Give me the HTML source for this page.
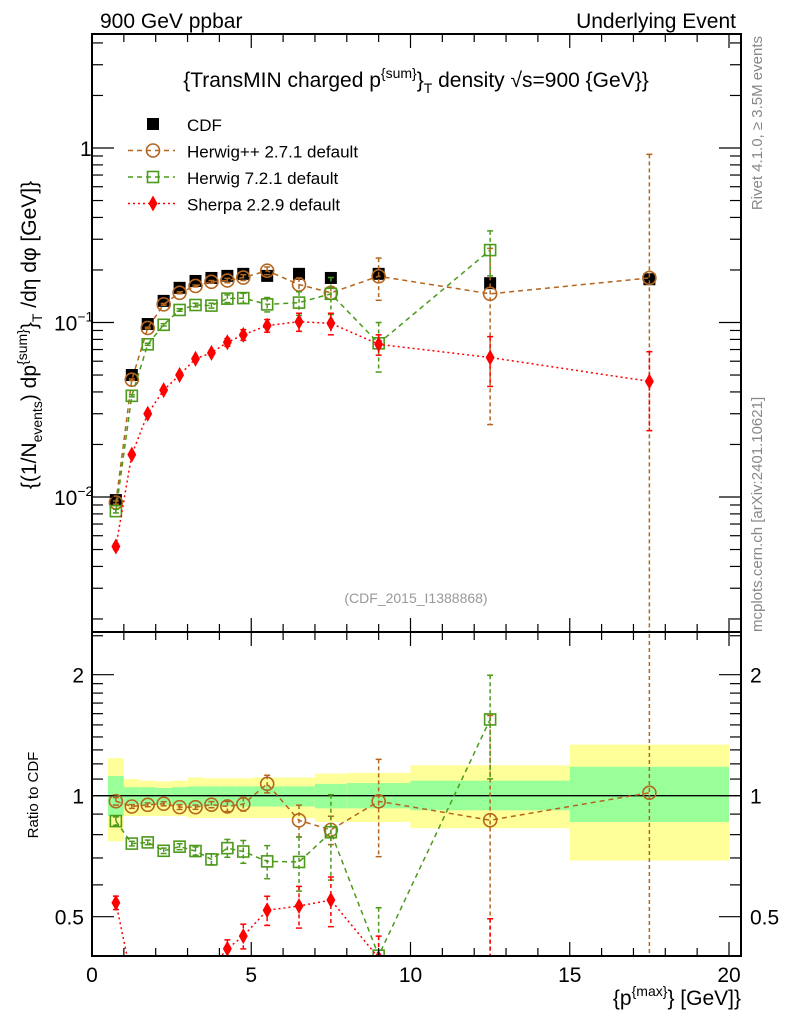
<!DOCTYPE html>
<html><head><meta charset="utf-8"><style>
html,body{margin:0;background:#fff;overflow:hidden;width:786px;height:1024px;}
svg{display:block;font-family:"Liberation Sans",sans-serif;}
</style></head><body>
<svg id="chart" width="786" height="1024" viewBox="0 0 786 1024" xmlns="http://www.w3.org/2000/svg" overflow="hidden">
<text x="100" y="28" font-size="21">900 GeV ppbar</text>
<text x="736" y="28" font-size="21" text-anchor="end">Underlying Event</text>
<text x="416" y="87" font-size="21" text-anchor="middle">{TransMIN charged p<tspan dy="-9" font-size="14">{sum}</tspan><tspan dy="9">}</tspan><tspan dy="6" font-size="14">T</tspan><tspan dy="-6"> density √s=900 {GeV}}</tspan></text>
<text transform="translate(36,335) rotate(-90)" font-size="21" text-anchor="middle">{(1/N<tspan dy="6" font-size="14">events</tspan><tspan dy="-6">) dp</tspan><tspan dy="-9" font-size="14">{sum}</tspan><tspan dy="9">}</tspan><tspan dy="6" font-size="14">T</tspan><tspan dy="-6"> /dη  dφ [GeV]}</tspan></text>
<text transform="translate(38,795) rotate(-90)" font-size="15" text-anchor="middle">Ratio to CDF</text>
<text transform="translate(762,36) rotate(-90)" font-size="15" fill="#888" text-anchor="end">Rivet 4.1.0, ≥ 3.5M events</text>
<text transform="translate(762,632) rotate(-90)" font-size="15" fill="#888">mcplots.cern.ch [arXiv:2401.10621]</text>
<text x="416" y="603" font-size="14" fill="#999" text-anchor="middle">(CDF_2015_I1388868)</text>
<text x="741" y="1005" font-size="21" text-anchor="end">{p<tspan dy="-9" font-size="14">{max}</tspan><tspan dy="9">} [GeV]}</tspan></text>
<g id="plots"></g>
<g id="legend"></g>
</svg>
<script>
const xs = [0.75,1.25,1.75,2.25,2.75,3.25,3.75,4.25,4.75,5.5,6.5,7.5,9,12.5,17.5];
const cdf = [0.0096,0.050,0.098,0.133,0.158,0.173,0.180,0.185,0.19,0.185,0.19,0.18,0.19,0.168,0.177];
const hpp = [0.0093,0.047,0.093,0.127,0.148,0.162,0.171,0.174,0.181,0.198,0.165,0.148,0.184,0.146,0.180];
const hppErr = [0.0002,0.0005,0.001,0.0015,0.002,0.002,0.003,0.005,0.007,0.01,0.015,0.012,0.05,0.12,0.74];
const h7 = [0.0083,0.038,0.075,0.097,0.118,0.126,0.125,0.137,0.138,0.127,0.13,0.146,0.076,0.26,null];
const h7Err = [0.0002,0.0005,0.001,0.0015,0.002,0.003,0.004,0.007,0.009,0.012,0.02,0.035,0.024,0.075,null];
const sh = [0.0052,0.0175,0.030,0.041,0.050,0.062,0.067,0.077,0.085,0.096,0.101,0.099,0.075,0.063,0.046];
const shErr = [0.0002,0.0004,0.0006,0.0008,0.001,0.0015,0.002,0.004,0.006,0.008,0.012,0.014,0.01,0.02,0.022];
const binEdges = [0.5,1,1.5,2,2.5,3,3.5,4,4.5,5,6,7,8,10,15,20];
const yelUp = [1.24,1.10,1.09,1.085,1.09,1.11,1.105,1.105,1.105,1.11,1.11,1.135,1.14,1.19,1.34];
const yelDn = [0.77,0.89,0.89,0.89,0.89,0.88,0.88,0.88,0.88,0.88,0.88,0.86,0.86,0.83,0.69];
const grnUp = [1.12,1.05,1.05,1.045,1.05,1.055,1.055,1.055,1.055,1.055,1.055,1.07,1.075,1.09,1.18];
const grnDn = [0.89,0.95,0.95,0.95,0.95,0.94,0.94,0.94,0.94,0.94,0.94,0.93,0.93,0.92,0.86];
const xTicks = [0,5,10,15,20];
const mainTicks = [[1,"1"],[0.1,"10"],[0.01,"10"]];
const ratioTicks = [0.5,1,2];

const NS="http://www.w3.org/2000/svg";
const L=92,R=741,T=34,MB=632,RB=956;
const X=v=>L+v*31.85;
const Ym=v=>148-Math.log10(v)*174.5;
const Yr=v=>795.7-Math.log2(v)*121;
const g=document.getElementById('plots');
function el(tag,at,parent){const e=document.createElementNS(NS,tag);for(const k in at)e.setAttribute(k,at[k]);(parent||g).appendChild(e);return e;}

const bands=el('g',{});


for(let i=0;i<yelUp.length;i++){
  const r1=el('rect',{x:X(binEdges[i]),width:X(binEdges[i+1])-X(binEdges[i]),y:Yr(yelUp[i]),height:Yr(yelDn[i])-Yr(yelUp[i]),fill:'#ffff99'},bands);
  
  
  const r2=el('rect',{x:X(binEdges[i]),width:X(binEdges[i+1])-X(binEdges[i]),y:Yr(grnUp[i]),height:Yr(grnDn[i])-Yr(grnUp[i]),fill:'#99ff99'},bands);
  
  
}
const one=el('line',{x1:L,x2:R,y1:Yr(1),y2:Yr(1),stroke:'#000','stroke-width':1.3});



const defs=el('defs',{});
const c1=el('clipPath',{id:'cm'},defs);el('rect',{x:L,y:T,width:R-L,height:MB-T},c1);
const c2=el('clipPath',{id:'cr'},defs);el('rect',{x:L,y:MB,width:R-L,height:RB-MB},c2);

function marker(parent,type,cx,cy,color){
  let m;
  if(type==='sq') m=el('rect',{x:cx-6,y:cy-6,width:12,height:12,fill:'#000'},parent);
  else if(type==='circ') m=el('circle',{cx,cy,r:6.5,fill:'none',stroke:color,'stroke-width':1.6},parent);
  else if(type==='osq') m=el('rect',{x:cx-5.5,y:cy-5.5,width:11,height:11,fill:'none',stroke:color,'stroke-width':1.6},parent);
  else m=el('polygon',{points:`${cx},${cy-8} ${cx+4.5},${cy} ${cx},${cy+8} ${cx-4.5},${cy}`,fill:color},parent);
  
  
}
function series(name,vals,errs,color,dash,type,ratio){
  const Y=ratio?Yr:Ym;
  const lim=ratio?RB+5:MB+5;
  const grp=el('g',{'clip-path':ratio?'url(#cr)':'url(#cm)'});
  
  
  const pts=[];
  vals.forEach((v,i)=>{ if(v==null)return; const val=ratio?v/cdf[i]:v; pts.push([X(xs[i]),Y(val)]);});
  if(dash){const p=el('polyline',{points:pts.map(p=>p.join(',')).join(' '),fill:'none',stroke:color,'stroke-width':1.5,'stroke-dasharray':dash},grp);
    
    }
  vals.forEach((v,i)=>{ if(v==null)return;
    const d=ratio?cdf[i]:1, val=v/d, e=errs?errs[i]/d:0;
    const cx=X(xs[i]), cy=Y(val);
    if(e>0){const lo=val-e>0?Math.min(Y(val-e),lim):lim, hi=Y(val+e);
      const b=el('line',{x1:cx,x2:cx,y1:hi,y2:lo,stroke:color,'stroke-width':1.5,'stroke-dasharray':type==='sq'?'':'4,3'},grp);
      
      
      if(type!=='sq'){el('line',{x1:cx-3,x2:cx+3,y1:hi,y2:hi,stroke:color,'stroke-width':1.5},grp);el('line',{x1:cx-3,x2:cx+3,y1:lo,y2:lo,stroke:color,'stroke-width':1.5},grp);}
    }
    marker(grp,type,cx,cy,color);
  });
}
const BR='#b5651d',GR='#4c9a1a',RD='#ff0000';
series('cdf',cdf,null,'#000','', 'sq',false);
series('herwigpp',hpp,hppErr,BR,'5,4','circ',false);
series('herwig7',h7,h7Err,GR,'5,4','osq',false);
series('sherpa',sh,shErr,RD,'2,3','dia',false);
series('herwigpp',hpp,hppErr,BR,'5,4','circ',true);
series('herwig7',h7,h7Err,GR,'5,4','osq',true);
series('sherpa',sh,shErr,RD,'2,3','dia',true);

[[T,MB],[MB,RB]].forEach(([a,b],k)=>{const f=el('rect',{x:L,y:a,width:R-L,height:b-a,fill:'none',stroke:'#000','stroke-width':2});
  
  });
for(let v=0;v<=20.3;v+=1){const maj=v%5===0;
  const len=maj?14:8;
  [T,MB].forEach(y=>el('line',{x1:X(v),x2:X(v),y1:y,y2:y+len,stroke:'#000','stroke-width':1.2}));
  [MB,RB].forEach(y=>el('line',{x1:X(v),x2:X(v),y1:y,y2:y-len,stroke:'#000','stroke-width':1.2}));
}
xTicks.forEach(v=>{const t=el('text',{x:X(v),y:982,'font-size':21,'text-anchor':'middle'});t.textContent=v;
  
  });
for(let e=-3;e<=0;e++)for(let m=1;m<=9;m++){const v=m*Math.pow(10,e),y=Ym(v);if(y<T||y>MB)continue;
  const len=m===1?22:11;
  el('line',{x1:L,x2:L+len,y1:y,y2:y,stroke:'#000','stroke-width':1.2});
  el('line',{x1:R,x2:R-len,y1:y,y2:y,stroke:'#000','stroke-width':1.2});}
mainTicks.forEach(([v,s])=>{const t=el('text',{x:v===1?80:54,y:Ym(v)+8,'font-size':21});
  t.textContent=s; if(v<1){const sp=document.createElementNS(NS,'tspan');sp.setAttribute('dy','-9');sp.setAttribute('font-size','14');sp.textContent=v===0.1?'−1':'−2';t.appendChild(sp);}
  
  });
[0.4,0.5,0.6,0.7,0.8,0.9,1,1.1,1.2,1.3,1.4,1.5,1.6,1.7,1.8,1.9,2,2.5].forEach(v=>{const y=Yr(v);if(y<MB||y>RB)return;
  const len=[0.5,1,2].includes(v)?22:11;
  el('line',{x1:L,x2:L+len,y1:y,y2:y,stroke:'#000','stroke-width':1.2});
  el('line',{x1:R,x2:R-len,y1:y,y2:y,stroke:'#000','stroke-width':1.2});});
ratioTicks.forEach(v=>{[[84,'end'],[750,'start']].forEach(([x,a])=>{const t=el('text',{x,y:Yr(v)+8,'font-size':21,'text-anchor':a});t.textContent=v;
  
  });});

const lg=document.getElementById('legend');
const entries=[['CDF','#000','','sq'],['Herwig++ 2.7.1 default',BR,'5,4','circ'],['Herwig 7.2.1 default',GR,'5,4','osq'],['Sherpa 2.2.9 default',RD,'2,3','dia']];
entries.forEach((e,i)=>{const y=124+i*26.5;
  const eg=el('g',{},lg);
  
  
  if(e[2])el('line',{x1:128,x2:175,y1:y,y2:y,stroke:e[1],'stroke-width':1.5,'stroke-dasharray':e[2]},eg);
  marker(eg,e[3],153,y,e[1]);
  const t=el('text',{x:187,y:y+7,'font-size':17},eg);t.textContent=e[0];});
</script>
</body></html>
